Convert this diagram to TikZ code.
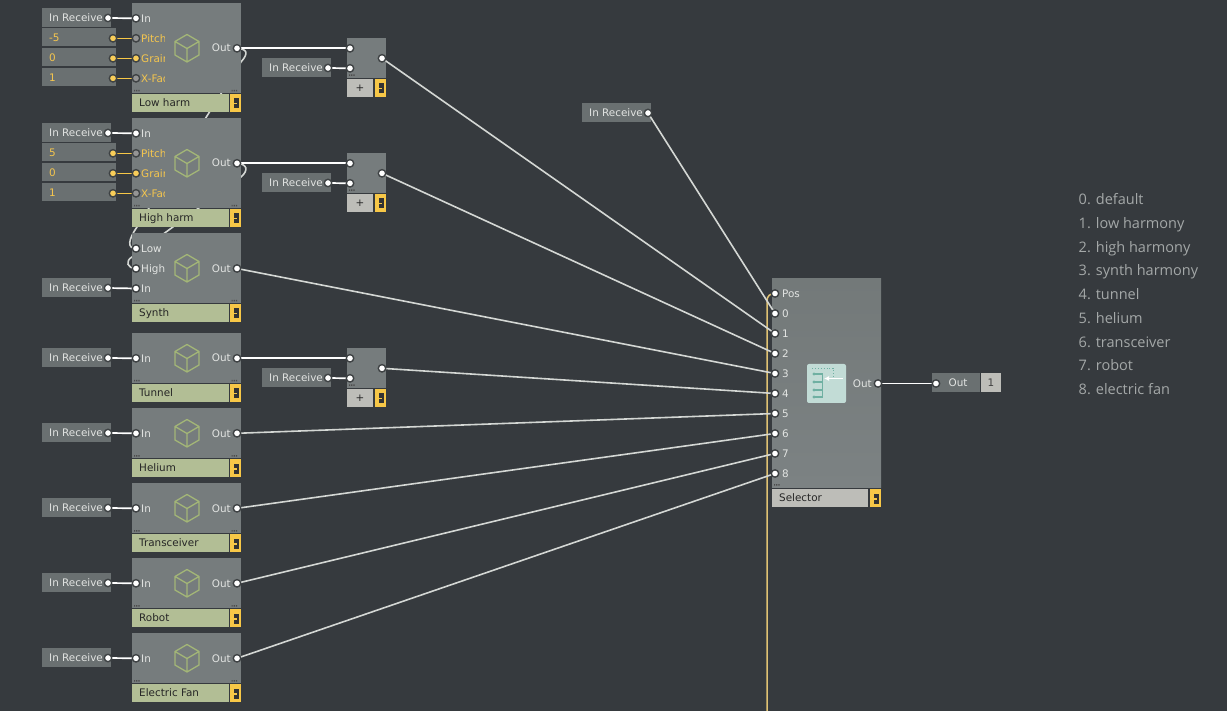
\documentclass[tikz,border=0pt]{standalone}
\usepackage{fontspec}
\usetikzlibrary{arrows.meta}
\setmainfont{DejaVu Sans}
\newfontfamily\notefont{Open Sans}
\definecolor{bgc}{HTML}{363A3E}
\definecolor{modf}{HTML}{767C7D}
\definecolor{modtop}{HTML}{737979}
\definecolor{modbot}{HTML}{7C8283}
\definecolor{boxc}{HTML}{6A7071}
\definecolor{labg}{HTML}{B2BE95}
\definecolor{labs}{HTML}{BDBDB8}
\definecolor{tagy}{HTML}{F7C747}
\definecolor{wirec}{HTML}{D4D7D4}
\definecolor{txtc}{HTML}{E2E4E2}
\definecolor{txty}{HTML}{F5C64E}
\definecolor{cubec}{HTML}{A3B677}
\definecolor{ringc}{HTML}{3E4244}
\definecolor{yelw}{HTML}{E0C273}
\definecolor{notec}{HTML}{A4A8A8}
\definecolor{iconc}{HTML}{C2DCD6}
\definecolor{icond}{HTML}{6FB0A2}
\pgfdeclarelayer{bgfill}\pgfdeclarelayer{back}\pgfdeclarelayer{top}
\pgfsetlayers{bgfill,back,main,top}
\tikzset{
  x=1pt,y=-1pt,
  boxn/.style={anchor=north west,inner sep=0pt,outer sep=0pt,minimum height=19pt,fill=boxc,draw=none},
  modn/.style={anchor=north west,inner sep=0pt,outer sep=0pt,minimum width=109pt,fill=modf,draw=none},
  labn/.style={anchor=north west,inner sep=0pt,outer sep=0pt,minimum height=18pt,fill=labg},
  tagn/.style={anchor=north west,inner sep=0pt,outer sep=0pt,minimum width=11pt,minimum height=18pt,fill=tagy},
  txt/.style={font=\fontsize{10.4}{12}\selectfont,text=txtc,inner sep=0pt,anchor=west,text height=9.2pt,text depth=1.8pt},
  ytxt/.style={txt,text=txty},
  dtxt/.style={txt,text=black!85},
  note/.style={font=\notefont\fontsize{14.5}{16}\selectfont,text=notec,inner sep=0pt,anchor=west,text height=14pt,text depth=2.5pt},
  wp/.style={circle,fill=white,draw=ringc,line width=1.4pt,minimum size=7.4pt,inner sep=0pt},
  yp/.style={circle,fill=tagy!90!white,draw=ringc,line width=1.4pt,minimum size=7.4pt,inner sep=0pt},
  gp/.style={circle,fill=black!42!white,draw=ringc,line width=1.4pt,minimum size=7.4pt,inner sep=0pt},
  wire/.style={draw=wirec,line width=1.6pt},
  wwire/.style={draw=white,line width=1.7pt},
  ywire/.style={draw=tagy,line width=1.5pt},
  cubeline/.style={draw=cubec,line width=1.3pt,line join=round},
}
% port: style, name, x, y
\newcommand{\prt}[4]{\begin{pgfonlayer}{top}\node[#1] (#2) at (#3,#4) {};\end{pgfonlayer}}
% dots: x, y
\newcommand{\tdots}[2]{\fill[black!70] (#1,#2) rectangle +(1.2,1.5) (#1+2.2,#2) rectangle +(1.2,1.5) (#1+4.4,#2) rectangle +(1.2,1.5);}
% tag: id, x, y
\newcommand{\tagbox}[3]{%
  \node[tagn] (#1) at (#2,#3) {};
  \fill[black!80] (#2+4,#3+4.5) rectangle +(5,4.5);
  \fill[black!80] (#2+4,#3+10.5) rectangle +(5,4);
  \fill[black!80] (#2+7,#3+4.5) rectangle +(2,10);}
% module body: id, top, height, label
\newcommand{\modbox}[4]{%
  \node[modn,minimum height=#3 pt] (#1) at (132,#2) {};
  \node[labn,minimum width=97pt] (#1lab) at (132,#2+#3+1) {};
  \node[dtxt] at (139,#2+#3+10) {#4};
  \tagbox{#1tag}{230}{#2+#3+1}
  \tdots{134}{#2+#3-3}
  \tdots{231.5}{#2+#3-3}}
% cube: x, y
\newcommand{\cube}[2]{\draw[cubeline] (#1,#2-13.5) -- (#1+12,#2-6.5) -- (#1+12,#2+7) -- (#1,#2+14) -- (#1-12,#2+7) -- (#1-12,#2-6.5) -- cycle (#1-12,#2-6.5) -- (#1,#2+.5) -- (#1+12,#2-6.5) (#1,#2+.5) -- (#1,#2+14);}
% in receive: id, x, y
\newcommand{\inrec}[3]{%
  \node[boxn,minimum width=69pt] (#1) at (#2,#3) {};
  \node[txt] at (#2+7,#3+9.5) {In Receive};
  \prt{wp}{#1p}{#2+66}{#3+10}}
% add: id, top
\newcommand{\addbox}[2]{%
  \node[anchor=north west,inner sep=0pt,outer sep=0pt,minimum width=39pt,minimum height=40pt,fill=modf] (#1) at (347,#2) {};
  \node[anchor=north west,inner sep=0pt,outer sep=0pt,minimum width=26pt,minimum height=18pt,fill=labs,font=\fontsize{10.4}{12}\selectfont,text=black!85] (#1lab) at (347,#2+41) {+};
  \tagbox{#1tag}{375}{#2+41}
  \tdots{349}{#2+36.5}
  \prt{wp}{#1a}{350}{#2+10.3}
  \prt{wp}{#1b}{350}{#2+30.3}
  \prt{wp}{#1o}{382}{#2+20.3}
  \inrec{#1r}{262}{#2+20}}
% simple effect: id, top, label
\newcommand{\fx}[3]{%
  \modbox{#1}{#2}{50}{#3}
  \cube{187}{#2+25}
  \node[txt] at (141,#2+25.5) {In};
  \node[txt,anchor=east] at (231,#2+25.3) {Out};
  \prt{wp}{#1i}{136}{#2+25.3}
  \prt{wp}{#1o}{237}{#2+25.3}
  \inrec{#1r}{42}{#2+15}
  \draw[wwire] (#1rp.center) -- (#1i.center);}
% pitch module: id, top, value, label
\newcommand{\valbox}[3]{%
  \node[boxn,minimum width=74pt,minimum height=18pt] (#1) at (42,#2) {};
  \node[ytxt] at (49,#2+9.5) {#3};
  \prt{yp}{#1p}{113}{#2+10.3}}
\newcommand{\ph}[4]{%
  \modbox{#1}{#2}{90}{#4}
  \cube{187}{#2+45}
  \begin{scope}
    \clip (138,#2) rectangle (164.5,#2+88);
    \node[txt] at (141,#2+15.5) {In};
    \node[ytxt] at (141,#2+35.5) {Pitch};
    \node[ytxt] at (141,#2+55.5) {Grain};
    \node[ytxt] at (141,#2+75.5) {X-Fade};
  \end{scope}
  \node[txt,anchor=east] at (231,#2+45.3) {Out};
  \prt{wp}{#1i}{136}{#2+15.3}
  \prt{gp}{#1pi}{136}{#2+35.3}
  \prt{yp}{#1gr}{136}{#2+55.3}
  \prt{gp}{#1xf}{136}{#2+75.3}
  \prt{wp}{#1o}{237}{#2+45.3}
  \inrec{#1r}{42}{#2+5}
  \valbox{#1va}{#2+25}{#3}
  \valbox{#1vb}{#2+45}{0}
  \valbox{#1vc}{#2+65}{1}
  \draw[wwire] (#1rp.center) -- (#1i.center);
  \draw[ywire] (#1vap.center) -- (#1pi.center);
  \draw[ywire] (#1vbp.center) -- (#1gr.center);
  \draw[ywire] (#1vcp.center) -- (#1xf.center);}
\begin{document}
\begin{tikzpicture}
\useasboundingbox (0,0) rectangle (1227,711);
\begin{pgfonlayer}{bgfill}
\fill[bgc] (0,0) rectangle (1227,711);
\end{pgfonlayer}

\ph{low}{3}{-5}{Low harm}
\ph{high}{118}{5}{High harm}
\addbox{adda}{38}
\addbox{addb}{153}
\addbox{addc}{348}

% synth
\modbox{syn}{233}{70}{Synth}
\cube{187}{268}
\node[txt] at (141,248.5) {Low};
\node[txt] at (141,268.5) {High};
\node[txt] at (141,288.5) {In};
\node[txt,anchor=east] at (231,268.5) {Out};
\prt{wp}{synl}{136}{248.5}
\prt{wp}{synh}{136}{268.5}
\prt{wp}{syni}{136}{288.5}
\prt{wp}{syno}{237}{268.5}
\inrec{synr}{42}{278}
\draw[wwire] (synrp.center) -- (syni.center);

\fx{tun}{333}{Tunnel}
\fx{hel}{408}{Helium}
\fx{tra}{483}{Transceiver}
\fx{rob}{558}{Robot}
\fx{fan}{633}{Electric Fan}

% top receive
\inrec{topr}{582}{103}

% selector
\node[anchor=north west,inner sep=0pt,outer sep=0pt,minimum width=109pt,minimum height=208.5pt,top color=modtop,bottom color=modbot] (sel) at (772,278.5) {};
\node[labn,minimum width=96pt,fill=labs] (sellab) at (772,489) {};
\node[dtxt] at (779,498) {Selector};
\tagbox{seltag}{870}{489}
\tdots{774}{484}
\node[txt] at (782,294) {Pos};
\prt{wp}{selpos}{775}{293.5}
\foreach \n in {0,...,8}{
  \pgfmathsetmacro{\yy}{313.5+20*\n}
  \node[txt] at (782,\yy) {\n};
  \prt{wp}{sel\n}{775}{\yy}
}
\node[txt,anchor=east] at (872,383.5) {Out};
\prt{wp}{selo}{878}{383.5}
% selector icon
\fill[iconc,rounded corners=2pt] (807,364) rectangle (846,403);
\draw[icond,line width=.9pt,dotted] (812,368) -- (833,368) -- (833,378);
\draw[icond,line width=1.6pt] (822.5,374) -- (822.5,397);
\foreach \yy in {374,382,390,397}{
  \draw[icond,line width=1.2pt] (814,\yy) -- (822.5,\yy);
  \fill[icond] (814,\yy) circle (1.7);
}
\draw[white,line width=1.4pt,-{Latex[length=5pt,width=5pt]}] (843,378.5) -- (824,378.5);

% output
\node[boxn,minimum width=48pt] (outb) at (932,373) {};
\node[font=\fontsize{10.4}{12}\selectfont,text=txtc,inner sep=0pt] at (958,382.5) {Out};
\node[anchor=north west,inner sep=0pt,outer sep=0pt,minimum width=20pt,minimum height=19pt,fill=labs,font=\fontsize{10.4}{12}\selectfont,text=black!75] (outn) at (981,373) {1};
\prt{wp}{outp}{936}{383.5}

% notes
\foreach \t [count=\i from 0] in {0. default,1. low harmony,2. high harmony,3. synth harmony,4. tunnel,5. helium,6. transceiver,7. robot,8. electric fan}{
  \node[note] (n\i) at (1078.5,199+23.75*\i) {\t};
}

% wires
\coordinate (ybot) at (767,711);
\draw[ywire,draw=yelw] (ybot) -- (767,301) .. controls (767,296) and (770,293.5) .. (selpos.center);
\draw[wwire] (lowo.center) -- (addaa.center);
\draw[wwire] (addarp.center) -- (addab.center);
\draw[wwire] (higho.center) -- (addba.center);
\draw[wwire] (addbrp.center) -- (addbb.center);
\draw[wwire] (tuno.center) -- (addca.center);
\draw[wwire] (addcrp.center) -- (addcb.center);
\draw[wwire] (selo.center) -- (outp.center);
\draw[wire] (toprp.center) -- (sel0.center);
\draw[wire] (addao.center) -- (sel1.center);
\draw[wire] (addbo.center) -- (sel2.center);
\draw[wire] (syno.center) -- (sel3.center);
\draw[wire] (addco.center) -- (sel4.center);
\draw[wire] (helo.center) -- (sel5.center);
\draw[wire] (trao.center) -- (sel6.center);
\draw[wire] (robo.center) -- (sel7.center);
\draw[wire] (fano.center) -- (sel8.center);
\begin{pgfonlayer}{back}
\draw[wire] (lowo.center) .. controls (247,49) and (249,53) .. (241,62) -- (137,227) .. controls (128,240) and (127,248.5) .. (synl.center);
\draw[wire] (higho.center) .. controls (247,164) and (249,170) .. (241,177) -- (132,257) .. controls (125,261) and (127,268.5) .. (synh.center);
\end{pgfonlayer}
\end{tikzpicture}
\end{document}
